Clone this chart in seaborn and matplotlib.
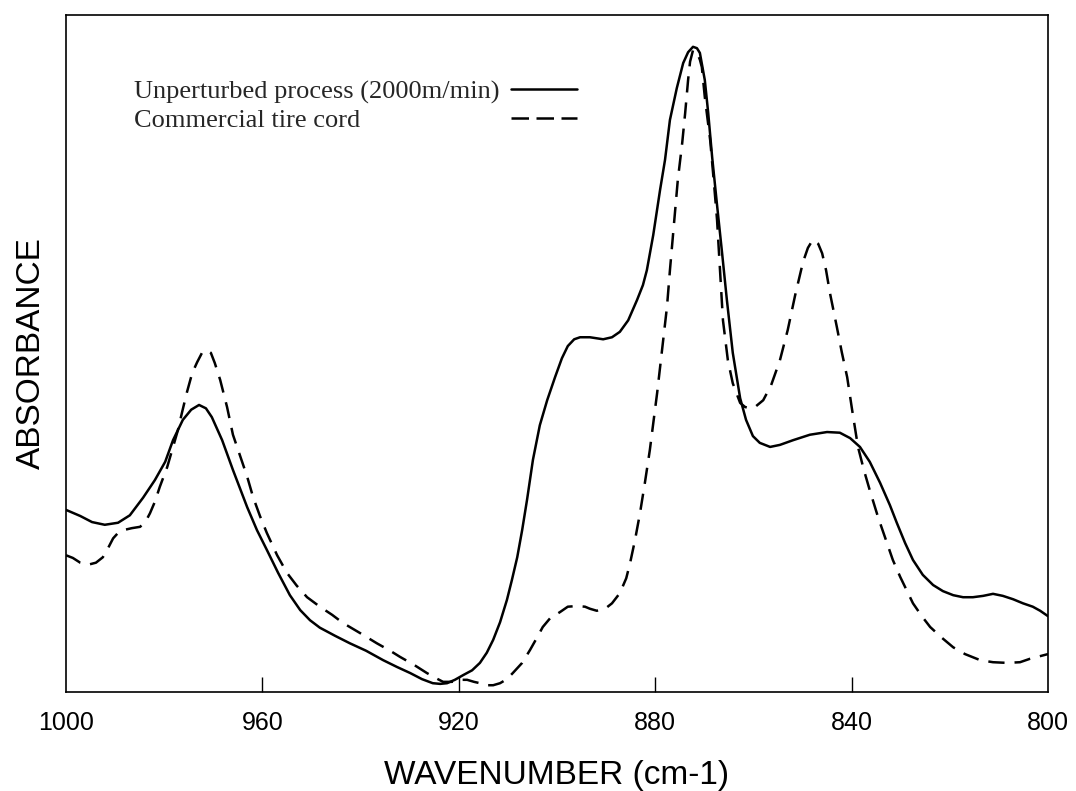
import numpy as np
import pandas as pd
import matplotlib
matplotlib.use("Agg")
import matplotlib.pyplot as plt
import seaborn as sns

# ---- data ----
wn_unperturbed = [
    1000.0, 997.1, 994.7, 992.1, 989.4, 987.0, 984.3, 981.9, 979.8, 978.2,
    976.2, 974.5, 972.9, 971.5, 970.3, 968.2, 966.0, 963.1, 961.1, 959.1,
    956.8, 954.4, 952.3, 950.3, 948.3, 945.2, 942.2, 938.9, 935.4, 932.6,
    929.9, 927.5, 925.3, 923.8, 922.4, 920.8, 919.1, 917.3, 915.7, 914.3,
    913.0, 911.6, 910.2, 909.2, 908.1, 907.1, 906.1, 904.9, 903.5, 902.0,
    900.4, 899.0, 897.8, 896.5, 895.3, 893.3, 890.6, 888.8, 887.2, 885.5,
    883.7, 882.5, 881.7, 880.4, 879.0, 878.0, 877.0, 875.6, 874.3, 873.3,
    872.3, 871.5, 870.9, 869.9, 869.2, 868.4, 867.4, 866.4, 865.4, 864.2,
    862.7, 861.5, 860.1, 858.7, 856.6, 854.6, 851.9, 848.5, 845.0, 842.4,
    840.3, 838.3, 836.3, 834.2, 832.2, 830.8, 829.1, 827.5, 825.5, 823.4,
    821.4, 819.3, 817.3, 815.3, 813.2, 811.2, 809.2, 807.1, 805.1, 803.1,
    801.6, 800.0]
abs_unperturbed = [
    0.269, 0.260, 0.251, 0.247, 0.250, 0.261, 0.287, 0.313, 0.340, 0.372,
    0.402, 0.417, 0.424, 0.419, 0.406, 0.372, 0.328, 0.273, 0.239, 0.210,
    0.176, 0.143, 0.121, 0.106, 0.095, 0.083, 0.072, 0.061, 0.047, 0.037,
    0.028, 0.019, 0.013, 0.012, 0.013, 0.018, 0.025, 0.032, 0.043, 0.058,
    0.077, 0.103, 0.136, 0.165, 0.199, 0.239, 0.284, 0.343, 0.394, 0.431,
    0.465, 0.493, 0.511, 0.521, 0.524, 0.524, 0.521, 0.524, 0.532, 0.549,
    0.579, 0.601, 0.623, 0.675, 0.742, 0.786, 0.845, 0.892, 0.929, 0.945,
    0.953, 0.951, 0.944, 0.904, 0.855, 0.790, 0.719, 0.650, 0.579, 0.501,
    0.434, 0.402, 0.378, 0.368, 0.362, 0.365, 0.372, 0.380, 0.384, 0.383,
    0.375, 0.362, 0.340, 0.309, 0.276, 0.250, 0.220, 0.195, 0.173, 0.158,
    0.149, 0.143, 0.140, 0.140, 0.142, 0.145, 0.142, 0.137, 0.131, 0.126,
    0.120, 0.112]

wn_commercial = [
    1000.0, 998.6, 997.1, 995.5, 993.9, 992.5, 991.4, 990.4, 989.4, 988.4,
    986.6, 984.9, 983.7, 982.9, 981.9, 980.9, 979.4, 978.2, 977.2, 976.4,
    975.4, 974.3, 973.3, 972.3, 971.3, 970.5, 969.7, 968.6, 967.2, 966.0,
    964.6, 963.1, 961.9, 960.5, 959.1, 957.0, 955.0, 953.0, 950.9, 948.3,
    945.8, 943.6, 940.1, 936.7, 934.0, 932.0, 929.1, 926.5, 924.8, 923.2,
    921.4, 919.8, 918.3, 916.9, 915.7, 914.3, 913.0, 911.6, 910.2, 909.0,
    907.1, 905.5, 904.1, 902.9, 901.4, 899.4, 897.8, 895.9, 894.3, 893.3,
    891.9, 890.2, 888.8, 887.2, 885.9, 885.1, 884.1, 883.1, 882.1, 881.1,
    879.6, 878.6, 877.6, 877.0, 876.0, 875.4, 874.5, 873.9, 873.3, 872.9,
    872.3, 871.5, 870.9, 870.5, 869.9, 868.8, 868.0, 867.4, 866.8, 866.2,
    865.2, 864.2, 862.7, 861.7, 860.7, 859.5, 858.0, 856.4, 854.6, 853.0,
    851.5, 849.9, 848.9, 847.9, 846.8, 846.0, 845.2, 844.4, 843.0, 842.0,
    840.9, 839.9, 838.7, 837.5, 836.3, 834.6, 832.8, 831.6, 830.1, 828.7,
    827.5, 825.7, 824.0, 821.6, 819.3, 816.9, 813.8, 811.2, 808.3, 805.7,
    803.7, 801.6, 800.0]
abs_commercial = [
    0.202, 0.198, 0.191, 0.188, 0.191, 0.199, 0.213, 0.227, 0.235, 0.239,
    0.242, 0.244, 0.253, 0.264, 0.281, 0.303, 0.332, 0.362, 0.387, 0.412,
    0.442, 0.471, 0.487, 0.501, 0.505, 0.501, 0.486, 0.461, 0.421, 0.380,
    0.350, 0.318, 0.288, 0.260, 0.235, 0.202, 0.176, 0.157, 0.140, 0.126,
    0.114, 0.102, 0.087, 0.072, 0.061, 0.052, 0.040, 0.028, 0.021, 0.015,
    0.015, 0.018, 0.018, 0.015, 0.013, 0.010, 0.010, 0.013, 0.019, 0.028,
    0.043, 0.062, 0.080, 0.096, 0.109, 0.118, 0.126, 0.127, 0.126, 0.123,
    0.120, 0.123, 0.131, 0.146, 0.168, 0.191, 0.225, 0.264, 0.309, 0.357,
    0.442, 0.505, 0.569, 0.623, 0.705, 0.756, 0.811, 0.855, 0.904, 0.931,
    0.948, 0.945, 0.934, 0.923, 0.879, 0.815, 0.749, 0.697, 0.623, 0.549,
    0.490, 0.456, 0.427, 0.421, 0.419, 0.422, 0.431, 0.453, 0.490, 0.535,
    0.586, 0.635, 0.656, 0.668, 0.662, 0.648, 0.623, 0.589, 0.539, 0.502,
    0.465, 0.417, 0.362, 0.328, 0.298, 0.258, 0.220, 0.195, 0.170, 0.149,
    0.131, 0.112, 0.096, 0.080, 0.066, 0.056, 0.047, 0.044, 0.043, 0.044,
    0.049, 0.053, 0.056]

series_labels = ["Unperturbed process (2000m/min)", "Commercial tire cord"]
tick_values = [1000, 960, 920, 880, 840, 800]
tick_labels = ["1000", "960", "920", "880", "840", "800"]

# ---- plot ----
sns.set_theme(style="white")
plt.rcParams["font.family"] = ["Liberation Sans", "DejaVu Sans"]

fig = plt.figure(figsize=(10.76, 7.91), dpi=100)
ax = fig.add_axes([66 / 1076, 1 - 692 / 791, (1048 - 66) / 1076, (692 - 15) / 791])

df_u = pd.DataFrame({"wn": wn_unperturbed, "A": abs_unperturbed})
df_c = pd.DataFrame({"wn": wn_commercial, "A": abs_commercial})

sns.lineplot(data=df_u, x="wn", y="A", ax=ax, color="black", linewidth=1.8,
             label=series_labels[0], sort=False)
sns.lineplot(data=df_c, x="wn", y="A", ax=ax, color="black", linewidth=1.8,
             label=series_labels[1], sort=False)
for ln in ax.lines:
    ln.set_solid_joinstyle("round")
    ln.set_dash_joinstyle("round")
ax.lines[1].set_linestyle((0, (6.5, 4.0)))

ax.set_xlim(1000, 800)
ax.set_ylim(0, 1)
ax.set_xticks(tick_values)
ax.set_xticklabels(tick_labels, fontsize=18)
ax.set_yticks([])
ax.tick_params(axis="x", direction="in", length=11, width=1.0, color="black",
               pad=14, bottom=True, labelcolor="black")
xt = ax.xaxis.get_major_ticks()
xt[0].tick1line.set_visible(False)
xt[-1].tick1line.set_visible(False)

for s in ax.spines.values():
    s.set_visible(True)
    s.set_color("black")
    s.set_linewidth(1.2)

ax.set_xlabel("WAVENUMBER (cm-1)", fontsize=24, labelpad=18, color="black")
ax.set_ylabel("ABSORBANCE", fontsize=24, labelpad=14, color="black")

leg = ax.legend(loc="center left", bbox_to_anchor=(134 / 1076, 1 - 106 / 791),
                bbox_transform=fig.transFigure, markerfirst=False, frameon=False,
                borderpad=0, borderaxespad=0, handlelength=2.5, handletextpad=0.45,
                labelspacing=0.17, prop={"family": "Liberation Serif", "size": 19})
for h in leg.get_lines():
    h.set_linewidth(1.8)
leg.get_lines()[1].set_linestyle((0, (7.0, 3.0)))

# left-align the legend texts while keeping the handles in one column
fig.canvas.draw()
renderer = fig.canvas.get_renderer()
widths = [t.get_window_extent(renderer).width for t in leg.get_texts()]
wmax = max(widths)
rows = [r for col in leg._legend_handle_box.get_children() for r in col.get_children()]
for row, w in zip(rows, widths):
    row.sep += (wmax - w) * 72.0 / fig.dpi

fig.savefig("out.png", dpi=100)
